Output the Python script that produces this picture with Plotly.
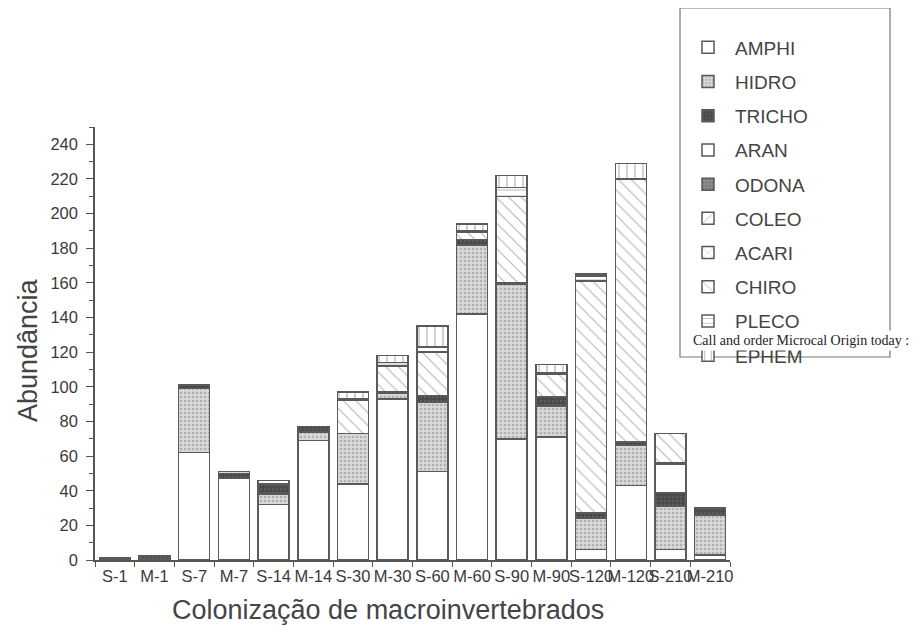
import plotly.graph_objects as go

categories = ["S-1", "M-1", "S-7", "M-7", "S-14", "M-14", "S-30", "M-30",
              "S-60", "M-60", "S-90", "M-90", "S-120", "M-120", "S-210", "M-210"]

AMPHI  = [0, 0, 62, 47, 32, 69, 44, 93, 51, 142, 70, 71, 6, 43, 6, 3]
HIDRO  = [1, 1, 37, 0, 6, 5, 29, 3, 40, 40, 89, 18, 18, 23, 25, 23]
TRICHO = [0.5, 1.5, 2, 3, 6, 3, 0, 1, 4, 3, 1, 5, 3, 2, 8, 4]
ARAN   = [0, 0, 0, 0, 0, 0, 0, 0, 0, 0, 0, 0, 0, 0, 16, 0]
ODONA  = [0, 0, 0, 0, 0, 0, 0, 0, 0, 0, 0, 0, 0, 0, 1, 0]
COLEO  = [0] * 16
ACARI  = [0] * 16
CHIRO  = [0, 0, 0, 0, 0, 0, 19, 15, 25, 4, 50, 13, 134, 152, 17, 0]
PLECO  = [0, 0, 0, 1, 2, 0, 1, 2, 3, 1, 5, 1, 3, 0, 0, 0]
EPHEM  = [0, 0, 0, 0, 0, 0, 4, 4, 12, 4, 7, 5, 1, 9, 0, 0]

series = [
    ("AMPHI", AMPHI), ("HIDRO", HIDRO), ("TRICHO", TRICHO), ("ARAN", ARAN),
    ("ODONA", ODONA), ("COLEO", COLEO), ("ACARI", ACARI), ("CHIRO", CHIRO),
    ("PLECO", PLECO), ("EPHEM", EPHEM),
]

styles = {
    "AMPHI":  dict(bg="white",   fg="#666", shape="",  size=8, sol=0.2),
    "HIDRO":  dict(bg="#d9d9d9", fg="#8a8a8a", shape=".", size=4, sol=0.35),
    "TRICHO": dict(bg="#4a4a4a", fg="#707070", shape=".", size=4, sol=0.3),
    "ARAN":   dict(bg="white",   fg="#666", shape="",  size=8, sol=0.2),
    "ODONA":  dict(bg="#8c8c8c", fg="#5a5a5a", shape=".", size=4, sol=0.35),
    "COLEO":  dict(bg="white",   fg="#666", shape="/", size=9, sol=0.12),
    "ACARI":  dict(bg="white",   fg="#666", shape="x", size=8, sol=0.12),
    "CHIRO":  dict(bg="white",   fg="#666", shape="\\", size=9, sol=0.12),
    "PLECO":  dict(bg="white",   fg="#666", shape="-", size=6, sol=0.15),
    "EPHEM":  dict(bg="white",   fg="#666", shape="|", size=8, sol=0.15),
}

fig = go.Figure()
for i, (name, vals) in enumerate(series):
    st = styles[name]
    fig.add_trace(go.Bar(
        name=name,
        x=categories,
        y=[v if v else None for v in vals],
        legendgroup=f"g{i}",
        marker=dict(
            color=st["bg"],
            line=dict(color="#5a5a5a", width=1.5),
            pattern=dict(shape=st["shape"], fgcolor=st["fg"], bgcolor=st["bg"],
                         size=st["size"], solidity=st["sol"]),
        ),
    ))

font_fam = "Liberation Sans, Arial, sans-serif"
OFF = 8  # browser body margin
W, H = 918 - OFF, 633 - OFF
L = 95 - OFF
T = 127 - OFF
plot_right = 730 - OFF
plot_bottom = 560 - OFF
R = W - plot_right
B = H - plot_bottom
pw, ph = W - L - R, H - T - B


def px(xp):
    return (xp - OFF - L) / pw


def py(yp):
    return (plot_bottom - (yp - OFF)) / ph


fig.update_layout(
    width=W, height=H,
    margin=dict(l=L, r=R, t=T, b=B, autoexpand=False),
    paper_bgcolor="white", plot_bgcolor="white",
    barmode="stack", bargap=0.22,
    font=dict(family=font_fam, color="#444"),
    showlegend=True,
    legend=dict(
        x=px(681), y=py(9), xanchor="left", yanchor="top",
        borderwidth=0, bgcolor="rgba(255,255,255,0)",
        font=dict(size=19, color="#444", family=font_fam),
        traceorder="grouped", tracegroupgap=6.5, itemwidth=44,
        maxheight=620,
        title=dict(text=" ", font=dict(size=15)),
    ),
    xaxis=dict(
        type="category", range=[-0.5, 15.5], tickson="boundaries",
        ticks="outside", ticklen=5, tickcolor="#555", tickwidth=1.2,
        showline=True, linecolor="#555", linewidth=1.5, showgrid=False,
        tickangle=0, tickfont=dict(size=16.5, color="#3a3a3a"),
    ),
    yaxis=dict(
        range=[0, 250], tickvals=list(range(0, 241, 20)),
        ticks="outside", ticklen=7, tickcolor="#555", tickwidth=1.2,
        ticklabelstandoff=5,
        minor=dict(tickvals=list(range(10, 251, 20)), ticks="outside", ticklen=4,
                   tickcolor="#555", tickwidth=1),
        showline=True, linecolor="#555", linewidth=1.5, showgrid=False,
        zeroline=False, tickfont=dict(size=16.5, color="#3a3a3a"),
    ),
    shapes=[
        dict(type="rect", xref="paper", yref="paper",
             x0=px(680), x1=px(890), y0=py(357), y1=py(8),
             line=dict(color="#777", width=1.2), fillcolor="rgba(0,0,0,0)"),
    ],
    annotations=[
        dict(text="Colonização de macroinvertebrados", xref="paper", yref="paper",
             x=px(388), y=py(610), xanchor="center", yanchor="middle",
             showarrow=False, font=dict(size=27, color="#444", family=font_fam)),
        dict(text="Abundância", xref="paper", yref="paper",
             x=px(28), y=py(350), xanchor="center", yanchor="middle",
             textangle=-90, showarrow=False,
             font=dict(size=27, color="#444", family=font_fam)),
        dict(text="Call and order Microcal Origin today :", xref="paper", yref="paper",
             x=px(690), y=py(340), xanchor="left", yanchor="middle",
             showarrow=False, bgcolor="white", borderpad=2,
             font=dict(size=14, color="#222", family="Liberation Serif, Times New Roman, serif")),
    ],
)

fig.write_html("out.html")
